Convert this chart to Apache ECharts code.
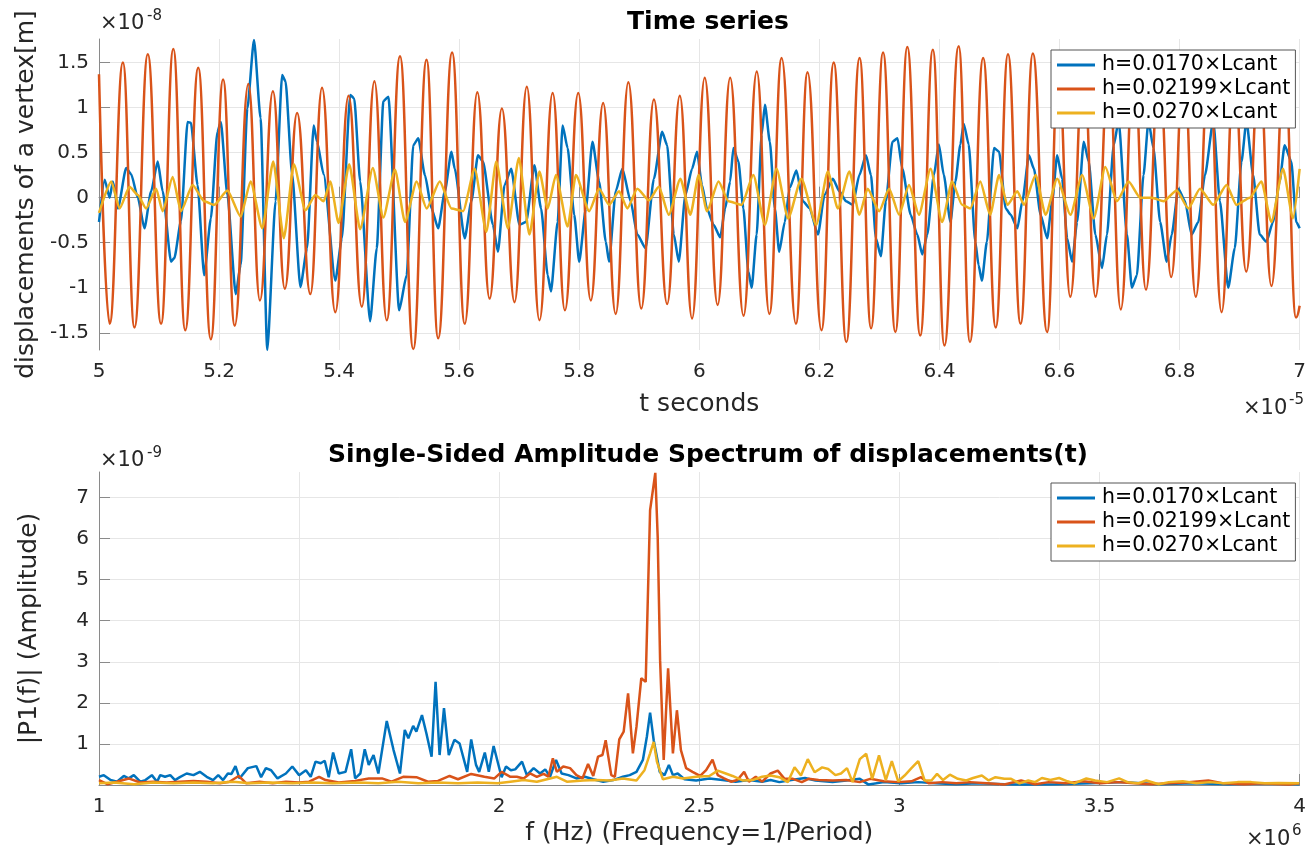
<!DOCTYPE html>
<html>
<head>
<meta charset="utf-8">
<script src="https://cdn.jsdelivr.net/npm/echarts@6/dist/echarts.min.js"></script>
<style>
  html, body { margin: 0; padding: 0; background: #fff; }
  #chart { width: 1309px; height: 851px; }
</style>
</head>
<body>
<div id="chart"></div>
<script>
// legend names, same for both panels
const seriesNames = ['h=0.0170×Lcant', 'h=0.02199×Lcant', 'h=0.0270×Lcant'];

// tick labels
const timeTicks = [5, 5.2, 5.4, 5.6, 5.8, 6, 6.2, 6.4, 6.6, 6.8, 7];      // ×1e-5 s
const dispTicks = [-1.5, -1, -0.5, 0, 0.5, 1, 1.5];                        // ×1e-8 m
const freqTicks = [1, 1.5, 2, 2.5, 3, 3.5, 4];                             // ×1e6 Hz
const ampTicks = [1, 2, 3, 4, 5, 6, 7];                                    // ×1e-9

// time series [t (×1e-5 s), displacement (×1e-8 m)]
const blueTime = [
  [5.000,-0.27],[5.0094,0.20],[5.0177,0.00],[5.0232,0.18],[5.0315,-0.12],[5.0453,0.33],[5.0536,0.26],
  [5.0647,0.00],[5.0757,-0.34],[5.0868,0.07],[5.0978,0.40],[5.1061,0.07],[5.1200,-0.71],[5.1255,-0.67],
  [5.1365,-0.26],[5.1476,0.84],[5.1531,0.83],[5.1642,0.14],[5.1752,-0.86],[5.1863,-0.23],[5.1973,0.73],
  [5.2029,0.84],[5.2139,0.03],[5.2278,-1.07],[5.2360,-0.74],[5.2471,0.99],[5.2582,1.75],[5.2692,0.88],
  [5.2803,-1.69],[5.2941,-0.04],[5.3051,1.36],[5.3107,1.29],[5.3217,0.26],[5.3355,-0.99],[5.3466,-0.56],
  [5.3577,0.80],[5.3632,0.62],[5.3742,0.26],[5.3936,-0.92],[5.4046,-0.45],[5.4185,1.14],[5.4251,1.10],
  [5.4351,0.18],[5.4516,-1.37],[5.4627,-0.56],[5.4737,1.07],[5.4820,1.12],[5.5000,-1.25],[5.5125,-0.86],
  [5.5235,0.58],[5.5318,0.66],[5.5429,0.25],[5.5539,-0.12],[5.5650,-0.34],[5.5761,0.07],[5.5871,0.51],
  [5.5926,0.32],[5.6092,-0.45],[5.6203,-0.04],[5.6313,0.47],[5.6396,0.40],[5.6562,-0.30],[5.6645,-0.60],
  [5.6756,0.14],[5.6866,0.32],[5.7004,-0.30],[5.7115,-0.27],[5.7253,0.36],[5.7364,-0.12],[5.7474,-0.86],
  [5.7529,-1.04],[5.7640,-0.27],[5.7723,0.80],[5.7806,0.55],[5.7916,-0.19],[5.7999,-0.71],[5.8110,-0.12],
  [5.8220,0.62],[5.8331,0.18],[5.8442,-0.49],[5.8497,-0.71],[5.8607,0.07],[5.8718,0.32],[5.8856,-0.04],
  [5.8967,-0.41],[5.9105,-0.56],[5.9243,0.21],[5.9381,0.73],[5.9464,0.58],[5.9575,-0.41],[5.9658,-0.71],
  [5.9768,0.03],[5.9879,0.32],[5.9962,0.51],[6.0044,0.14],[6.0127,-0.12],[6.0237,-0.30],[6.0348,-0.44],
  [6.0430,-0.12],[6.0513,0.18],[6.0568,0.55],[6.0651,0.40],[6.0734,-0.12],[6.0817,-0.82],[6.0872,-1.00],
  [6.0955,-0.41],[6.1038,0.70],[6.1093,1.03],[6.1175,0.62],[6.1258,-0.12],[6.1330,-0.60],[6.1424,-0.27],
  [6.1507,0.11],[6.1617,0.30],[6.1727,-0.04],[6.1838,-0.12],[6.1976,-0.41],[6.2086,0.03],[6.2224,0.21],
  [6.2334,0.07],[6.2445,-0.04],[6.2555,-0.08],[6.2666,0.25],[6.2776,0.47],[6.2859,0.25],[6.2942,-0.45],
  [6.3024,-0.65],[6.3107,-0.04],[6.3217,0.62],[6.3300,0.66],[6.3383,0.32],[6.3521,-0.19],[6.3631,-0.41],
  [6.3714,-0.63],[6.3797,-0.41],[6.3907,0.25],[6.3990,0.59],[6.4073,0.25],[6.4183,-0.27],[6.4266,0.18],
  [6.4349,0.59],[6.4404,0.82],[6.4487,0.59],[6.4597,-0.49],[6.4652,-0.75],[6.4707,-0.92],[6.4790,-0.49],
  [6.4910,0.55],[6.4993,0.51],[6.5104,-0.12],[6.5187,-0.19],[6.5298,-0.34],[6.5381,-0.04],[6.5491,0.47],
  [6.5574,0.32],[6.5685,-0.19],[6.5795,-0.45],[6.5878,-0.04],[6.5961,0.47],[6.6044,0.21],[6.6127,-0.45],
  [6.6210,-0.71],[6.6293,-0.27],[6.6404,0.62],[6.6487,0.40],[6.6597,-0.41],[6.6708,-0.78],[6.6791,-0.41],
  [6.6902,0.58],[6.6985,0.85],[6.7123,-0.41],[6.7206,-1.00],[6.7289,-0.86],[6.7399,0.25],[6.7482,0.85],
  [6.7565,0.55],[6.7676,-0.27],[6.7786,-0.71],[6.7869,-0.41],[6.7980,0.10],[6.8091,-0.04],[6.8201,-0.41],
  [6.8312,-0.27],[6.8423,0.25],[6.8561,0.85],[6.8672,-0.04],[6.8810,-1.00],[6.8920,-0.56],[6.9031,0.40],
  [6.9114,0.85],[6.9225,0.25],[6.9335,-0.41],[6.9446,-0.49],[6.9556,-0.27],[6.9667,0.18],[6.9750,0.58],
  [6.9861,0.40],[6.9944,-0.27],[7.0000,-0.34]
];

const orangeTime = [
  [5.000,1.37],[5.0177,-1.40],[5.0398,1.50],[5.0591,-1.44],[5.0813,1.59],[5.1034,-1.40],[5.1238,1.65],
  [5.1437,-1.47],[5.1653,1.44],[5.1863,-1.57],[5.2067,1.31],[5.2261,-1.42],[5.2488,1.26],[5.2681,-1.14],
  [5.2897,1.18],[5.3096,-1.01],[5.3300,0.94],[5.3521,-1.07],[5.3715,1.22],[5.3936,-1.27],[5.4157,1.13],
  [5.4378,-1.21],[5.4588,1.29],[5.4793,-1.36],[5.5014,1.57],[5.5235,-1.68],[5.5456,1.53],[5.5650,-1.56],
  [5.5882,1.61],[5.6093,-1.40],[5.6302,1.17],[5.6507,-1.12],[5.6711,0.99],[5.6922,-1.16],[5.7126,1.23],
  [5.7337,-1.36],[5.7557,1.16],[5.7761,-1.25],[5.7983,1.16],[5.8192,-1.14],[5.8398,1.05],[5.8607,-1.29],
  [5.8818,1.28],[5.9033,-1.23],[5.9244,1.09],[5.9464,-1.18],[5.9675,1.13],[5.9879,-1.34],[6.0090,1.33],
  [6.0305,-1.19],[6.0514,1.33],[6.0736,-1.31],[6.0957,1.40],[6.1167,-1.29],[6.1371,1.55],[6.1609,-1.40],
  [6.1803,1.39],[6.2035,-1.47],[6.2239,1.50],[6.2449,-1.60],[6.2670,1.55],[6.2861,-1.45],[6.3061,1.61],
  [6.3266,-1.49],[6.3465,1.67],[6.3680,-1.53],[6.3890,1.64],[6.4083,-1.64],[6.4320,1.68],[6.4508,-1.60],
  [6.4728,1.55],[6.4938,-1.44],[6.5142,1.59],[6.5352,-1.40],[6.5556,1.60],[6.5794,-1.49],[6.5980,1.45],
  [6.6180,-1.10],[6.6400,1.50],[6.6600,-1.10],[6.6820,1.45],[6.7020,-1.24],[6.7240,1.50],[6.7440,-1.02],
  [6.7660,1.45],[6.7860,-0.88],[6.8070,1.45],[6.8270,-1.10],[6.8490,1.50],[6.8700,-1.27],[6.8910,1.40],
  [6.9110,-0.82],[6.9330,1.45],[6.9530,-0.98],[6.9750,1.50],[6.9940,-1.33],[7.0000,-1.20]
];

const yellowTime = [
  [5.000,-0.17],[5.0205,0.18],[5.0343,-0.12],[5.0509,0.12],[5.0647,0.03],[5.0785,-0.12],[5.0951,0.10],
  [5.1061,-0.15],[5.1227,0.23],[5.1365,-0.15],[5.1559,0.14],[5.1752,-0.04],[5.1918,-0.08],[5.2139,0.08],
  [5.2360,-0.21],[5.2526,0.18],[5.2720,-0.34],[5.2902,0.40],[5.3079,-0.45],[5.3245,0.37],[5.3438,-0.14],
  [5.3604,0.03],[5.3742,-0.04],[5.3853,0.18],[5.3991,-0.28],[5.4168,0.37],[5.4350,-0.35],[5.4561,0.33],
  [5.4737,-0.22],[5.4931,0.31],[5.5097,-0.27],[5.5291,0.18],[5.5457,-0.12],[5.5677,0.18],[5.5871,-0.12],
  [5.6065,-0.15],[5.6258,0.32],[5.6452,-0.38],[5.6617,0.40],[5.6811,-0.34],[5.6994,0.44],[5.7170,-0.41],
  [5.7336,0.29],[5.7474,-0.12],[5.7612,0.25],[5.7806,-0.32],[5.7944,0.25],[5.8165,-0.15],[5.8331,0.10],
  [5.8497,-0.08],[5.8663,0.07],[5.8801,-0.12],[5.8967,0.10],[5.9160,-0.03],[5.9326,0.12],[5.9492,-0.19],
  [5.9685,0.21],[5.9851,-0.19],[5.9989,0.25],[6.0127,-0.15],[6.0320,0.18],[6.0486,-0.04],[6.0706,-0.08],
  [6.0900,0.25],[6.1093,-0.30],[6.1286,0.32],[6.1479,-0.23],[6.1700,0.21],[6.1948,-0.30],[6.2141,0.29],
  [6.2307,-0.12],[6.2500,0.29],[6.2666,-0.19],[6.2804,0.10],[6.2997,-0.15],[6.3162,0.10],[6.3328,-0.19],
  [6.3493,0.14],[6.3659,-0.19],[6.3852,0.32],[6.4045,-0.27],[6.4211,0.18],[6.4377,-0.08],[6.4514,-0.12],
  [6.4680,0.18],[6.4845,-0.19],[6.4993,0.25],[6.5132,-0.08],[6.5298,0.07],[6.5408,-0.08],[6.5602,0.25],
  [6.5768,-0.19],[6.5961,0.21],[6.6183,-0.19],[6.6376,0.25],[6.6570,-0.23],[6.6763,0.34],[6.6957,-0.04],
  [6.7150,0.18],[6.7344,0.00],[6.7538,0.00],[6.7731,-0.04],[6.7952,0.08],[6.8146,-0.12],[6.8340,0.10],
  [6.8561,-0.08],[6.8782,0.14],[6.8948,-0.08],[6.9169,0.00],[6.9363,0.18],[6.9529,-0.27],[6.9723,0.32],
  [6.9889,-0.23],[7.0000,0.32]
];

// spectra [f (×1e6 Hz), |P1| (×1e-9)]
const blueSpec = [
  [1.000,0.20],[1.012,0.24],[1.029,0.12],[1.045,0.08],[1.062,0.22],[1.074,0.16],[1.087,0.24],[1.103,0.08],
  [1.116,0.12],[1.132,0.24],[1.145,0.08],[1.153,0.24],[1.165,0.20],[1.178,0.24],[1.190,0.12],[1.202,0.19],
  [1.219,0.28],[1.236,0.24],[1.252,0.32],[1.269,0.20],[1.285,0.12],[1.298,0.24],[1.310,0.12],[1.322,0.28],
  [1.331,0.27],[1.341,0.46],[1.351,0.16],[1.372,0.41],[1.393,0.46],[1.405,0.19],[1.417,0.41],[1.430,0.36],
  [1.446,0.16],[1.467,0.28],[1.483,0.45],[1.500,0.24],[1.517,0.36],[1.529,0.20],[1.541,0.57],[1.554,0.53],
  [1.564,0.59],[1.574,0.19],[1.585,0.79],[1.599,0.28],[1.616,0.32],[1.630,0.87],[1.640,0.16],[1.653,0.28],
  [1.664,0.87],[1.674,0.49],[1.686,0.73],[1.698,0.28],[1.719,1.56],[1.736,0.85],[1.752,0.28],[1.764,1.34],
  [1.773,1.14],[1.785,1.44],[1.793,1.30],[1.807,1.70],[1.818,1.26],[1.831,0.69],[1.841,2.51],[1.851,0.73],
  [1.862,1.87],[1.874,0.73],[1.888,1.10],[1.901,1.01],[1.920,0.32],[1.930,1.11],[1.942,0.49],[1.950,0.32],
  [1.964,0.79],[1.974,0.32],[1.986,0.95],[2.006,0.19],[2.017,0.45],[2.029,0.36],[2.040,0.38],[2.057,0.57],
  [2.069,0.24],[2.086,0.41],[2.102,0.28],[2.115,0.38],[2.127,0.20],[2.142,0.61],[2.156,0.28],[2.173,0.24],
  [2.193,0.16],[2.214,0.20],[2.235,0.14],[2.260,0.08],[2.285,0.12],[2.309,0.20],[2.326,0.24],[2.343,0.32],
  [2.359,0.61],[2.369,1.18],[2.377,1.76],[2.386,1.09],[2.401,0.32],[2.413,0.24],[2.424,0.49],[2.434,0.24],
  [2.446,0.28],[2.463,0.14],[2.492,0.11],[2.525,0.16],[2.558,0.12],[2.591,0.08],[2.624,0.12],[2.657,0.08],
  [2.678,0.12],[2.700,0.07],[2.730,0.12],[2.764,0.17],[2.790,0.11],[2.833,0.07],[2.867,0.11],[2.901,0.15],
  [2.923,0.01],[2.961,0.07],[3.004,0.04],[3.047,0.07],[3.090,0.04],[3.142,0.02],[3.193,0.04],[3.262,0.02],
  [3.313,0.01],[3.390,0.02],[3.476,0.04],[3.562,0.07],[3.648,0.02],[3.733,0.04],[3.819,0.02],[3.905,0.04],
  [3.999,0.02]
];

const orangeSpec = [
  [1.000,0.12],[1.021,0.02],[1.045,0.08],[1.074,0.16],[1.103,0.06],[1.136,0.08],[1.169,0.06],[1.202,0.08],
  [1.236,0.10],[1.269,0.08],[1.302,0.04],[1.326,0.08],[1.349,0.22],[1.368,0.04],[1.401,0.08],[1.434,0.04],
  [1.467,0.08],[1.500,0.06],[1.525,0.08],[1.550,0.20],[1.566,0.12],[1.599,0.06],[1.640,0.10],[1.674,0.16],
  [1.707,0.16],[1.731,0.08],[1.760,0.20],[1.793,0.19],[1.822,0.08],[1.847,0.10],[1.876,0.22],[1.897,0.14],
  [1.930,0.27],[1.963,0.20],[1.988,0.16],[2.006,0.32],[2.028,0.20],[2.044,0.20],[2.061,0.16],[2.077,0.28],
  [2.094,0.20],[2.111,0.27],[2.123,0.20],[2.134,0.65],[2.144,0.32],[2.160,0.45],[2.177,0.41],[2.193,0.24],
  [2.208,0.16],[2.222,0.51],[2.235,0.22],[2.247,0.69],[2.258,0.73],[2.266,1.09],[2.280,0.24],[2.289,0.20],
  [2.300,1.11],[2.311,1.30],[2.322,2.23],[2.334,0.77],[2.343,1.42],[2.355,2.60],[2.366,2.51],[2.377,6.69],
  [2.390,7.60],[2.396,6.04],[2.402,3.04],[2.411,0.61],[2.422,2.84],[2.434,0.77],[2.444,1.82],[2.454,0.85],
  [2.467,0.41],[2.483,0.32],[2.502,0.22],[2.517,0.36],[2.533,0.62],[2.546,0.24],[2.562,0.16],[2.579,0.08],
  [2.595,0.12],[2.612,0.32],[2.624,0.08],[2.641,0.20],[2.657,0.08],[2.678,0.28],[2.696,0.35],[2.713,0.15],
  [2.734,0.15],[2.756,0.07],[2.773,0.15],[2.798,0.12],[2.833,0.11],[2.867,0.12],[2.901,0.07],[2.927,0.15],
  [2.961,0.09],[2.996,0.07],[3.030,0.09],[3.054,0.19],[3.073,0.04],[3.107,0.07],[3.142,0.04],[3.176,0.07],
  [3.219,0.04],[3.262,0.01],[3.304,0.11],[3.339,0.02],[3.373,0.07],[3.416,0.04],[3.459,0.09],[3.502,0.04],
  [3.545,0.07],[3.587,0.04],[3.630,0.02],[3.673,0.04],[3.716,0.06],[3.772,0.11],[3.810,0.04],[3.862,0.02],
  [3.905,0.04],[3.973,0.01],[3.999,0.04]
];

const yellowSpec = [
  [1.000,0.04],[1.037,0.06],[1.087,0.02],[1.136,0.06],[1.186,0.04],[1.236,0.06],[1.285,0.04],[1.335,0.08],
  [1.376,0.04],[1.426,0.06],[1.483,0.04],[1.533,0.06],[1.583,0.04],[1.649,0.06],[1.698,0.04],[1.748,0.08],
  [1.798,0.04],[1.847,0.06],[1.897,0.04],[1.946,0.06],[1.996,0.04],[2.028,0.08],[2.061,0.12],[2.094,0.08],
  [2.127,0.16],[2.144,0.20],[2.169,0.08],[2.210,0.11],[2.243,0.12],[2.276,0.11],[2.309,0.16],[2.343,0.11],
  [2.363,0.36],[2.377,0.77],[2.386,1.05],[2.394,0.57],[2.409,0.14],[2.434,0.20],[2.459,0.16],[2.492,0.20],
  [2.525,0.22],[2.546,0.35],[2.566,0.28],[2.583,0.22],[2.608,0.11],[2.633,0.12],[2.657,0.20],[2.678,0.23],
  [2.700,0.19],[2.721,0.07],[2.738,0.43],[2.754,0.23],[2.771,0.63],[2.788,0.31],[2.807,0.43],[2.822,0.39],
  [2.840,0.24],[2.854,0.28],[2.869,0.41],[2.883,0.07],[2.901,0.63],[2.917,0.76],[2.932,0.15],[2.949,0.72],
  [2.966,0.12],[2.981,0.58],[2.997,0.09],[3.013,0.23],[3.030,0.41],[3.047,0.58],[3.063,0.11],[3.080,0.11],
  [3.094,0.27],[3.109,0.12],[3.126,0.25],[3.146,0.15],[3.167,0.11],[3.184,0.17],[3.206,0.23],[3.223,0.11],
  [3.240,0.19],[3.262,0.15],[3.279,0.15],[3.300,0.04],[3.322,0.11],[3.339,0.07],[3.356,0.17],[3.377,0.12],
  [3.399,0.17],[3.420,0.09],[3.437,0.04],[3.467,0.16],[3.489,0.11],[3.519,0.07],[3.549,0.16],[3.570,0.07],
  [3.596,0.04],[3.617,0.11],[3.648,0.02],[3.673,0.07],[3.708,0.09],[3.742,0.04],[3.776,0.07],[3.810,0.04],
  [3.845,0.07],[3.879,0.07],[3.913,0.04],[3.948,0.05],[3.999,0.04]
];

const colors = ['#0072BD', '#D95319', '#EDB120'];
const font = 'DejaVu Sans';
const axisGray = '#8a8a8a';
const gridGray = '#e6e6e6';
const textDark = '#262626';

function valueAxis(extra) {
  return Object.assign({
    type: 'value',
    axisLine: { show: true, lineStyle: { color: axisGray, width: 1 } },
    splitLine: { show: true, lineStyle: { color: gridGray, width: 1 } },
    nameTextStyle: { color: textDark, fontSize: 25, fontFamily: font }
  }, extra);
}

function ticks(values) {
  return { show: true, inside: true, length: 11, lineStyle: { color: axisGray }, customValues: values };
}

function labels(values, margin) {
  return { color: textDark, fontSize: 20, fontFamily: font, margin: margin, customValues: values };
}

function legendBox(top) {
  return {
    orient: 'vertical',
    left: 1051,
    top: top,
    data: seriesNames,
    icon: 'rect',
    backgroundColor: '#fff',
    borderColor: '#555',
    borderWidth: 1,
    padding: [4, 5, 4, 6],
    itemGap: 2,
    itemWidth: 38,
    itemHeight: 3,
    textStyle: { fontSize: 20.5, fontFamily: font, color: '#000', lineHeight: 22, padding: [0, 0, 0, 2] },
    selectedMode: false
  };
}

const timeSets = [blueTime, orangeTime, yellowTime];
const specSets = [blueSpec, orangeSpec, yellowSpec];

const series = [];
timeSets.forEach((data, i) => {
  series.push({
    name: seriesNames[i],
    type: 'line',
    xAxisIndex: 0,
    yAxisIndex: 0,
    data: data,
    symbol: 'none',
    smooth: i === 1 ? 0.45 : 0.2,
    smoothMonotone: 'x',
    lineStyle: { color: colors[i], width: 2.5 },
    itemStyle: { color: colors[i] }
  });
});
specSets.forEach((data, i) => {
  series.push({
    name: seriesNames[i],
    type: 'line',
    xAxisIndex: 1,
    yAxisIndex: 1,
    data: data,
    symbol: 'none',
    lineStyle: { color: colors[i], width: 2.5 },
    itemStyle: { color: colors[i] }
  });
});

const chart = echarts.init(document.getElementById('chart'));
chart.setOption({
  animation: false,
  backgroundColor: '#fff',
  color: colors,
  title: [
    { text: 'Time series', left: 703, top: 5, textAlign: 'center',
      textStyle: { fontSize: 25, fontWeight: 'bold', fontFamily: font, color: '#000' } },
    { text: 'Single-Sided Amplitude Spectrum of displacements(t)', left: 703, top: 438, textAlign: 'center',
      textStyle: { fontSize: 25, fontWeight: 'bold', fontFamily: font, color: '#000' } }
  ],
  legend: [legendBox(50), legendBox(483)],
  grid: [
    { left: 99, top: 39, width: 1206, height: 311 },
    { left: 99, top: 472, width: 1206, height: 313 }
  ],
  xAxis: [
    valueAxis({ gridIndex: 0, min: timeTicks[0], max: timeTicks[timeTicks.length - 1], interval: 0.2,
      name: 't seconds', nameLocation: 'middle', nameGap: 42,
      axisLabel: labels(timeTicks, 12), axisTick: ticks(timeTicks) }),
    valueAxis({ gridIndex: 1, min: freqTicks[0], max: freqTicks[freqTicks.length - 1], interval: 0.5,
      name: 'f (Hz) (Frequency=1/Period)', nameLocation: 'middle', nameGap: 36,
      axisLabel: labels(freqTicks, 12), axisTick: ticks(freqTicks) })
  ],
  yAxis: [
    valueAxis({ gridIndex: 0, min: -1.69, max: 1.76,
      name: 'displacements of a vertex[m]', nameLocation: 'middle', nameGap: 59,
      axisLabel: labels(dispTicks, 10), axisTick: ticks(dispTicks) }),
    valueAxis({ gridIndex: 1, min: 0, max: 7.62,
      name: '|P1(f)| (Amplitude)', nameLocation: 'middle', nameGap: 57,
      axisLabel: labels(ampTicks, 10), axisTick: ticks(ampTicks) })
  ],
  graphic: [
    { type: 'text', left: 100, top: 13, style: { text: '×10', fontSize: 21, fontFamily: font, fill: textDark } },
    { type: 'text', left: 147, top: 9, style: { text: '-8', fontSize: 15, fontFamily: font, fill: textDark } },
    { type: 'text', left: 1243, top: 398, style: { text: '×10', fontSize: 21, fontFamily: font, fill: textDark } },
    { type: 'text', left: 1289, top: 393, style: { text: '-5', fontSize: 15, fontFamily: font, fill: textDark } },
    { type: 'text', left: 100, top: 450, style: { text: '×10', fontSize: 21, fontFamily: font, fill: textDark } },
    { type: 'text', left: 147, top: 446, style: { text: '-9', fontSize: 15, fontFamily: font, fill: textDark } },
    { type: 'text', left: 1246, top: 829, style: { text: '×10', fontSize: 21, fontFamily: font, fill: textDark } },
    { type: 'text', left: 1292, top: 824, style: { text: '6', fontSize: 15, fontFamily: font, fill: textDark } }
  ],
  series: series
});
</script>
</body>
</html>
